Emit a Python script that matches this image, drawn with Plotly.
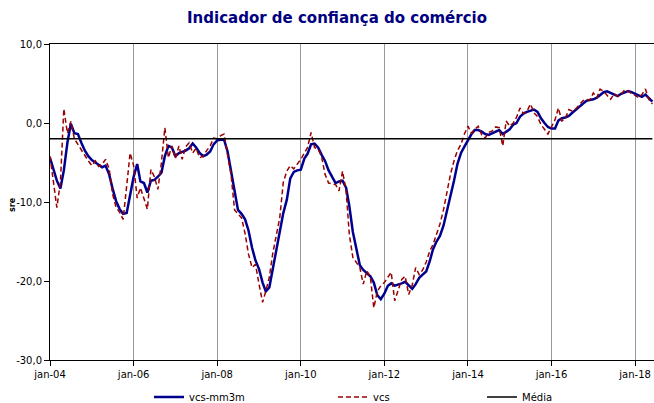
import pandas as pd
import plotly.graph_objects as go

# ---------------- data ----------------
start_month = "2004-01-01"
n_months = 174

vcs_mm3m = [
    -4.4, -5.8, -7.3, -8.3, -6.0, -2.5, -0.1, -1.3, -1.4, -2.5,
    -3.5, -4.2, -4.7, -5.0, -5.3, -5.6, -5.4, -6.5, -8.3, -9.9,
    -10.9, -11.5, -11.4, -9.0, -6.8, -5.2, -7.4, -7.6, -8.8, -7.3,
    -7.2, -6.8, -6.3, -4.2, -2.9, -3.1, -4.2, -3.8, -3.7, -3.5,
    -3.2, -2.6, -3.1, -3.8, -4.2, -4.0, -3.6, -2.7, -2.2, -2.1,
    -2.1, -3.6, -6.0, -8.8, -11.0, -11.5, -12.2, -13.6, -15.8, -17.4,
    -18.5, -20.2, -21.3, -20.8, -18.5, -16.2, -13.9, -11.4, -9.7, -7.0,
    -6.2, -6.0, -5.9, -4.5, -3.9, -2.7, -2.6, -3.1, -4.0, -4.8,
    -6.0, -6.8, -7.6, -7.4, -7.3, -8.2, -10.5, -13.8, -16.0, -18.0,
    -18.6, -19.0, -19.4, -20.2, -21.8, -22.3, -21.6, -20.6, -20.3, -20.6,
    -20.5, -20.3, -20.1, -20.6, -21.0, -20.4, -19.6, -19.2, -18.8, -17.5,
    -16.0, -15.0, -14.3, -13.0, -11.2, -9.0, -7.3, -5.2, -3.8, -3.0,
    -2.1, -1.4, -0.9, -0.9, -1.1, -1.4, -1.5, -1.3, -1.0, -0.9,
    -1.4, -1.1, -0.8, -0.2, 0.0, 0.8, 1.2, 1.4, 1.5, 1.7,
    1.4, 0.6, 0.0, -0.5, -0.7, -0.7, 0.3, 0.6, 0.7, 0.9,
    1.3, 1.7, 2.1, 2.5, 2.8, 2.9, 3.0, 3.2, 3.5, 3.9,
    4.0, 3.8, 3.6, 3.4, 3.7, 3.9, 4.05, 3.9, 3.7, 3.4,
    3.3, 3.6, 3.2, 2.7,
]

vcs = [
    -4.2, -7.5, -10.7, -7.5, 1.8, -1.3, 0.2, -2.0, -2.7, -3.4,
    -4.2, -4.8, -5.4, -4.8, -5.5, -5.2, -4.6, -5.8, -9.0, -10.7,
    -11.3, -12.2, -8.0, -3.8, -5.4, -9.5, -8.2, -9.5, -10.9, -5.9,
    -6.8, -8.4, -5.0, -0.6, -4.4, -2.9, -4.5, -2.9, -4.6, -3.0,
    -2.5, -3.8, -3.2, -4.4, -4.2, -3.5, -2.9, -1.9, -2.0, -1.6,
    -1.4, -4.0, -6.5, -11.0, -11.5, -12.0, -14.0, -16.6, -18.3, -17.9,
    -20.4, -22.7, -21.3, -19.5, -16.5, -14.2, -12.0, -7.5, -6.1, -5.4,
    -5.8, -5.2, -4.6, -3.8, -3.1, -1.2, -3.1, -3.3, -4.2, -6.5,
    -7.6, -7.7, -7.8, -8.6, -6.1, -8.6, -14.1, -17.0, -17.6, -18.3,
    -20.4, -18.7, -19.5, -23.4, -21.3, -20.6, -20.2, -19.5, -18.9, -22.5,
    -21.1, -19.8, -19.4, -21.7, -20.5, -18.3, -19.2, -18.6, -17.6, -16.2,
    -15.4, -14.1, -12.8, -11.0, -8.6, -6.5, -4.8, -3.5, -2.7, -1.4,
    -0.4, -1.3, -0.8, -0.4, -1.5, -1.9, -1.2, -1.0, -0.5, -0.6,
    -2.9, 0.25, -0.4, 0.0, 0.7, 1.9, 1.2, 1.5, 2.4, 1.3,
    0.8, -0.2, -0.8, -1.4, -0.5, 0.4, 1.9, 0.25, 0.6, 1.7,
    1.5, 1.8, 2.3, 2.8, 3.0, 2.9, 3.8, 3.2, 4.3, 4.0,
    3.5, 3.0, 3.7, 3.4, 3.6, 4.2, 4.0, 3.8, 3.5, 3.2,
    3.6, 4.3, 3.0, 2.4,
]

media = [-2.0, -2.0]

x_tick_labels = ["jan-04", "jan-06", "jan-08", "jan-10", "jan-12", "jan-14", "jan-16", "jan-18"]
x_tick_dates = ["2004-01-01", "2006-01-01", "2008-01-01", "2010-01-01",
                "2012-01-01", "2014-01-01", "2016-01-01", "2018-01-01"]
y_tick_values = [10, 0, -10, -20, -30]
y_tick_labels = ["10,0", "0,0", "-10,0", "-20,0", "-30,0"]

x_range = ["2004-01-01", "2018-06-15"]
y_range = [-30, 10]

months = pd.date_range(start_month, periods=n_months, freq="MS")

# ---------------- figure ----------------
FONT = "DejaVu Sans"
fig = go.Figure()

fig.add_trace(go.Scatter(
    x=months, y=vcs_mm3m, name="vcs-mm3m", mode="lines",
    line=dict(color="#000090", width=2.5), legend="legend", showlegend=True,
))
fig.add_trace(go.Scatter(
    x=months, y=vcs, name="vcs", mode="lines",
    line=dict(color="#990000", width=1.5, dash="5px,3px"), legend="legend2", showlegend=True,
))
fig.add_trace(go.Scatter(
    x=[months[0], months[-1]], y=media, name="Média", mode="lines",
    line=dict(color="#000000", width=1.5), legend="legend3", showlegend=True,
))

W, H = 654, 403
L, R, T, B = 50, 0, 44, 43
pw = W - L - R
ph = H - T - B

leg_y = 1 - 397 / H
legend_common = dict(
    orientation="h", xref="container", yref="container",
    yanchor="middle", y=leg_y, xanchor="left",
    font=dict(family=FONT, size=10, color="#000000"),
    bgcolor="rgba(0,0,0,0)", borderwidth=0, itemwidth=30, visible=True,
)

fig.update_layout(
    width=W, height=H,
    showlegend=True,
    margin=dict(l=L, r=R, t=T, b=B, pad=0, autoexpand=False),
    paper_bgcolor="white", plot_bgcolor="white",
    font=dict(family=FONT, size=10, color="#000000"),
    title=dict(
        text="<b>Indicador de confiança do comércio</b>",
        font=dict(family=FONT, size=15, color="#000080"),
        x=337 / W, xref="container", xanchor="center",
        y=1 - 18 / H, yref="container", yanchor="middle",
    ),
    legend=dict(x=149 / W, **legend_common),
    legend2=dict(x=333 / W, **legend_common),
    legend3=dict(x=482 / W, **legend_common),
    xaxis=dict(
        type="date", range=x_range, automargin=False,
        tickvals=x_tick_dates, ticktext=x_tick_labels,
        showgrid=True, gridcolor="#999999", gridwidth=1,
        showline=True, linecolor="#000000", linewidth=1, mirror=True,
        ticks="outside", ticklen=5, tickcolor="#000000",
        tickfont=dict(family=FONT, size=10, color="#000000"),
        zeroline=False,
    ),
    yaxis=dict(
        range=y_range, automargin=False,
        tickvals=y_tick_values, ticktext=y_tick_labels,
        showgrid=False,
        showline=True, linecolor="#000000", linewidth=1,
        ticks="outside", ticklen=5, tickcolor="#000000",
        tickfont=dict(family=FONT, size=10, color="#000000"),
        zeroline=False,
    ),
    annotations=[dict(
        text="<b>sre</b>", textangle=-90,
        x=(12 - L) / pw, y=((H - B) - 205) / ph, xref="paper", yref="paper",
        xanchor="center", yanchor="middle", showarrow=False,
        font=dict(family=FONT, size=8, color="#000000"),
    )],
)

fig.write_html(
    "out.html",
    config={"displayModeBar": False},
    post_script="document.body.style.margin='0';document.body.style.overflow='hidden';",
)
